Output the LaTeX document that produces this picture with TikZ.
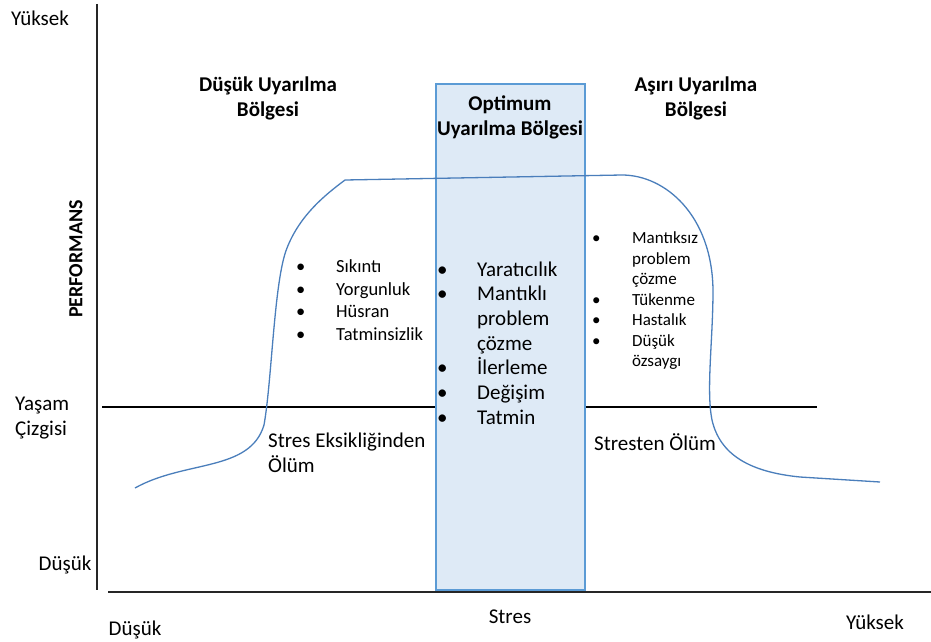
\documentclass[tikz,border=0pt]{standalone}
\usepackage{fontspec}
\setmainfont{Carlito}
\usepackage{tikz}
\usetikzlibrary{positioning}
\definecolor{zonefill}{HTML}{DEEAF6}
\definecolor{zoneedge}{HTML}{5B9BD5}
\definecolor{curveblue}{HTML}{4A7EBB}
\newcommand{\bul}{\makebox[40pt][l]{\textbullet}}
\newcommand{\ind}{\hspace*{40pt}}
\tikzset{
	txt/.style={inner sep=0pt, font=\fontsize{21}{25}\selectfont},
	ttl/.style={inner sep=0pt, align=center, font=\fontsize{21}{25}\selectfont\bfseries},
	axis/.style={line width=1.5pt, black!85},
	perf/.style={color=curveblue, line width=1.3pt}
}
\begin{document}
\begin{tikzpicture}[x=1pt,y=-1pt]
			\useasboundingbox (0,0) rectangle (931,642);
			\coordinate (ytop) at (97,4);
			\coordinate (ybot) at (97,590);
			\coordinate (xleft) at (108,592);
			\coordinate (xright) at (931,592);
			\coordinate (lifeL) at (102,407);
			\coordinate (lifeR) at (817,407);
			\draw [axis] (ytop) -- (ybot);
			\draw [axis] (xleft) -- (xright);
			\draw [line width=1.2pt] (lifeL) -- (lifeR);
			\draw [fill=zonefill, draw=zoneedge, line width=1.5pt] (436,84) rectangle (585,590);
			\draw [perf] (135,488) .. controls (185,460) and (250,472) .. (264,425)
				.. controls (272,380) and (274,280) .. (287,248)
				.. controls (300,215) and (325,195) .. (345,180) -- (622,175)
				.. controls (665,175) and (712,215) .. (713,290)
				.. controls (713,340) and (706,390) .. (712,420)
				.. controls (720,455) and (750,472) .. (800,477)
				.. controls (840,480) .. (880,482);
			\node [txt] (yhigh) at (40,18) {Yüksek};
			\node [txt, align=left, anchor=west] (life) at (15,418) {Yaşam\\Çizgisi};
			\node [txt] (ylow) at (65,565) {Düşük};
			\node [txt] (xlow) at (135,630) {Düşük};
			\node [txt] (stres) at (510,617) {Stres};
			\node [txt] (xhigh) at (875,622) {Yüksek};
			\node [ttl, rotate=90, font=\fontsize{20}{24}\selectfont\bfseries] (perfy) at (76,259) {PERFORMANS};
			\node [ttl] (lowzone) at (268,98) {Düşük Uyarılma\\Bölgesi};
			\node [ttl] (optzone) at (510,117) {Optimum\\Uyarılma Bölgesi};
			\node [ttl] (highzone) at (696,98) {Aşırı Uyarılma\\Bölgesi};
			\node [txt, align=left, anchor=west, font=\fontsize{18.5}{22.5}\selectfont] (lowlist) at (296,300)
				{\bul Sıkıntı\\\bul Yorgunluk\\\bul Hüsran\\\bul Tatminsizlik};
			\node [txt, align=left, anchor=west, font=\fontsize{21}{24.7}\selectfont] (optlist) at (437,343)
				{\bul Yaratıcılık\\\bul Mantıklı\\\ind problem\\\ind çözme\\\bul İlerleme\\\bul Değişim\\\bul Tatmin};
			\node [txt, align=left, anchor=west, font=\fontsize{17}{20.5}\selectfont] (highlist) at (592,301)
				{\bul Mantıksız\\\ind problem\\\ind çözme\\\bul Tükenme\\\bul Hastalık\\\bul Düşük\\\ind özsaygı};
			\node [txt, align=left, anchor=west] (lowdeath) at (268,453) {Stres Eksikliğinden\\Ölüm};
			\node [txt, anchor=west] (highdeath) at (594,442) {Stresten Ölüm};
		\end{tikzpicture}
\end{document}
